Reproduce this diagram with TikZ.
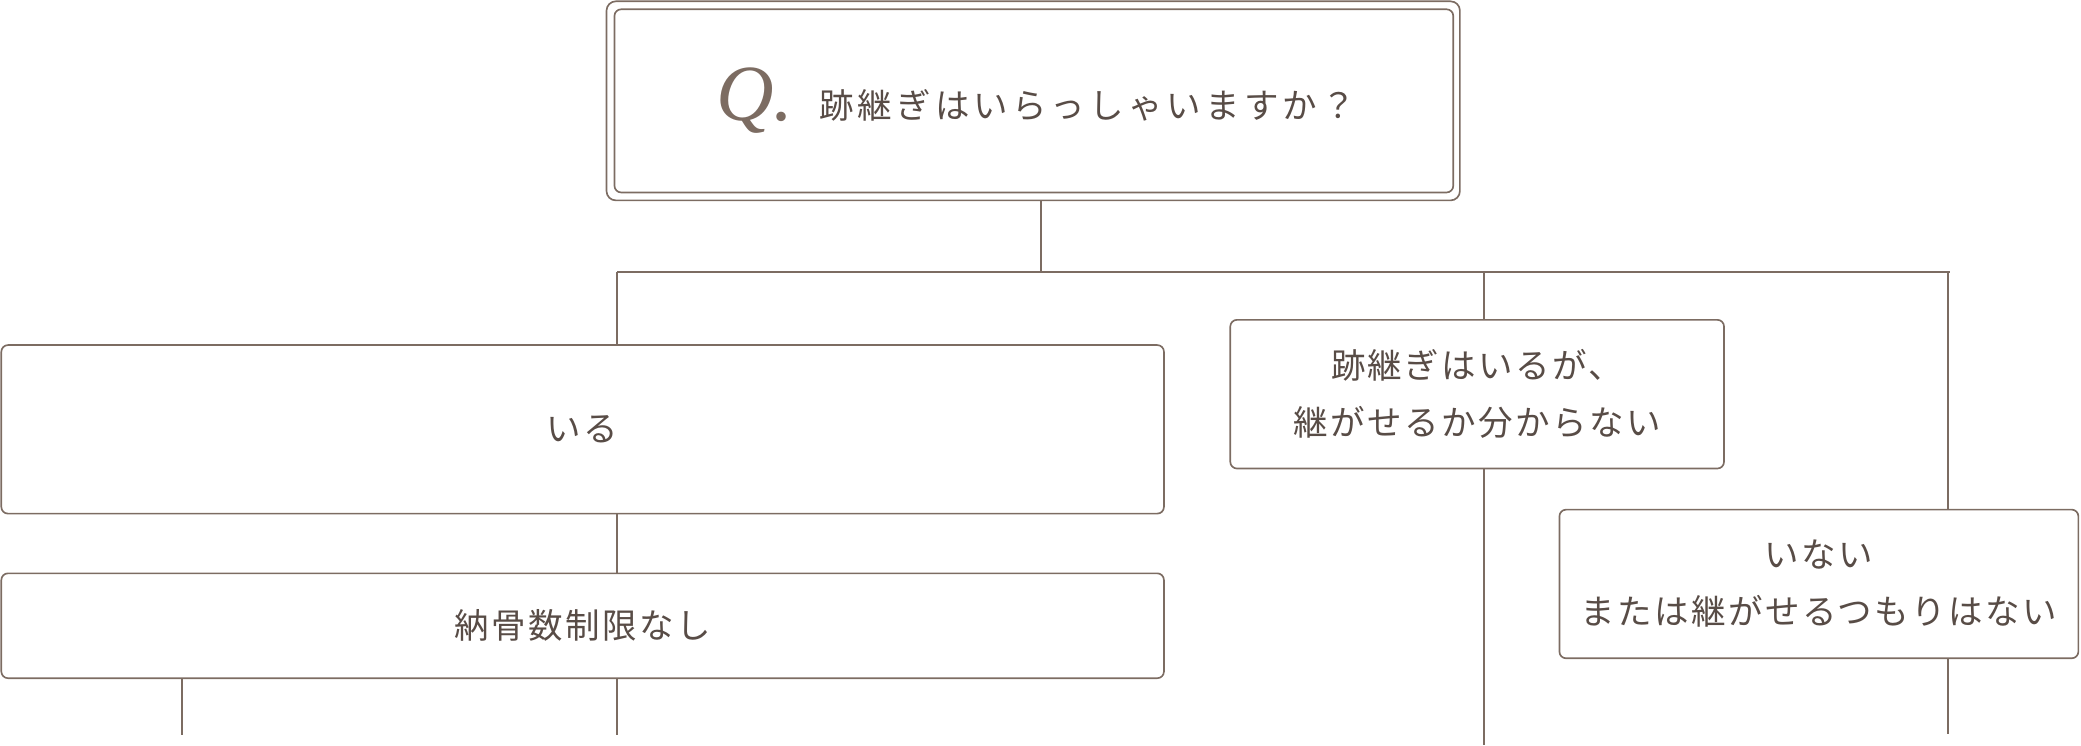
\documentclass[tikz,border=0pt]{standalone}
\usepackage{fontspec}
\newfontfamily\jp[LetterSpace=7]{Noto Sans CJK JP}
\newfontfamily\jpq[LetterSpace=12]{Noto Sans CJK JP}
\newfontfamily\qfont{Liberation Serif}
\definecolor{linec}{RGB}{124,108,98}
\definecolor{textc}{RGB}{88,76,70}
\begin{document}
\begin{tikzpicture}[x=1pt,y=-1pt,
  conn/.style={draw=linec,line width=1.25pt},
  boxs/.style={draw=linec,line width=1.25pt,rounded corners=5pt,rectangle,inner sep=0pt,outer sep=0pt,
    text=textc,align=center,font=\jp\fontsize{26}{43}\selectfont},
]
\useasboundingbox (0,0) rectangle (1568,562);
% top double box
\node[boxs,rounded corners=7pt,minimum width=643pt,minimum height=150pt] (top) at (778.5,76) {};
\node[boxs,minimum width=632pt,minimum height=138pt] (topin) at (779,76) {};
\node[text=linec,font=\qfont\itshape\fontsize{60}{60}\selectfont,inner sep=0pt,anchor=base] (q) at (569,91) {Q.};
\node[text=textc,font=\jpq\fontsize{26}{26}\selectfont,inner sep=0pt,anchor=base west] (qt) at (617,89) {跡継ぎはいらっしゃいますか？};
% boxes
\node[boxs,minimum width=876pt,minimum height=127pt] (b1) at (439,323.5) {いる};
\node[boxs,minimum width=876pt,minimum height=79pt] (b1b) at (439,471.5) {納骨数制限なし};
\node[boxs,minimum width=372pt,minimum height=112pt] (b2) at (1113,297) {跡継ぎはいるが、\\継がせるか分からない};
\node[boxs,minimum width=391pt,minimum height=112pt] (b3) at (1370.5,440) {いない\\または継がせるつもりはない};
% coordinates
\coordinate (stemT) at (784.4,205);
\coordinate (barL) at (465,205);
\coordinate (barR) at (1469,205);
\coordinate (end1) at (137,554);
\coordinate (end2) at (465,554);
\coordinate (end3) at (1118,561);
\coordinate (end4) at (1468,553);
% connectors
\draw[conn] (stemT |- top.south) -- (stemT);
\draw[conn] (barL) -- (barR);
\draw[conn] (barL) -- (barL |- b1.north);
\draw[conn] (barL |- b1.south) -- (barL |- b1b.north);
\draw[conn] (end1 |- b1b.south) -- (end1);
\draw[conn] (end2 |- b1b.south) -- (end2);
\draw[conn] (end3 |- barL) -- (end3 |- b2.north);
\draw[conn] (end3 |- b2.south) -- (end3);
\draw[conn] (end4 |- barL) -- (end4 |- b3.north);
\draw[conn] (end4 |- b3.south) -- (end4);
\end{tikzpicture}
\end{document}
